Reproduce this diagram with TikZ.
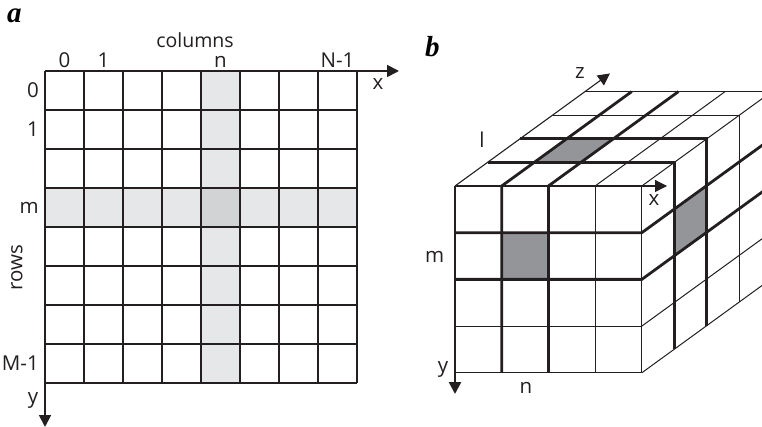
\documentclass[tikz,border=0pt]{standalone}
\usepackage{fontspec}
\setmainfont{Open Sans}
\newfontfamily\panelfont{Liberation Serif}
\usetikzlibrary{arrows.meta}
\definecolor{ink}{HTML}{231F20}
\definecolor{lightsh}{HTML}{E6E7E8}
\definecolor{midsh}{HTML}{D1D3D4}
\definecolor{darksh}{HTML}{939598}
\begin{document}
\begin{tikzpicture}[x=1pt,y=-1pt,
  thinline/.style={draw=ink,line width=1.1pt},
  thickline/.style={draw=ink,line width=2.6pt,line join=miter},
  bthin/.style={draw=ink,line width=1.0pt},
  bthick/.style={draw=ink,line width=2.8pt,line join=miter},
  axisarrow/.style={draw=ink,line width=1.8pt,-{Triangle[length=12pt,width=12pt]}},
  thinarrow/.style={draw=ink,line width=1.1pt,-{Triangle[length=12pt,width=12pt]}},
  lbl/.style={font=\fontsize{20.5}{21}\selectfont,text=ink,inner sep=0pt},
  panel/.style={font=\panelfont\bfseries\itshape\fontsize{29}{29}\selectfont,text=black,inner sep=0pt}]
\useasboundingbox (0,0) rectangle (762,427);
\clip (0,0) rectangle (762,427);
% ---------------- panel a ----------------
\fill[lightsh] (45,188) rectangle (357,227);
\fill[lightsh] (201,71) rectangle (240,383);
\fill[midsh] (201,188) rectangle (240,227);
\foreach \i in {1,2,3,6,7,8} \draw[thinline] ({45+39*\i},71) -- ({45+39*\i},383);
\foreach \j in {1,2,5,6,7,8} \draw[thinline] (45,{71+39*\j}) -- (357,{71+39*\j});
\draw[thickline] (201,71) -- (201,383);
\draw[thickline] (240,71) -- (240,383);
\draw[thickline] (45,188) -- (357,188);
\draw[thickline] (45,227) -- (357,227);
\coordinate (aO) at (45,71);
\coordinate (aX) at (399,71);
\coordinate (aY) at (45,427);
\draw[axisarrow] (aO) -- (aX);
\draw[axisarrow] (aO) -- (aY);
\node[panel,anchor=base west] (pa) at (7,23) {a};
\node[lbl,font=\fontsize{19.5}{20}\selectfont,anchor=base] (cols) at (195,48) {columns};
\node[lbl,anchor=base] (c0) at (64.5,68) {0};
\node[lbl,anchor=base] (c1) at (103.5,68) {1};
\node[lbl,anchor=base] (cn) at (220.5,68) {n};
\node[lbl,anchor=base] (cN) at (337.5,68) {N-1};
\node[lbl,anchor=east] (r0) at (39,90.5) {0};
\node[lbl,anchor=east] (r1) at (39,129.5) {1};
\node[lbl,anchor=east] (rm) at (39,207.5) {m};
\node[lbl,anchor=east] (rM) at (39,363.5) {M-1};
\node[lbl,rotate=90] (rows) at (17,268) {rows};
\node[lbl] (ax) at (378,84) {x};
\node[lbl,anchor=base] (ay) at (33,403) {y};
% ---------------- panel b ----------------
\def\bx{455}\def\by{186}\def\cs{46.7}\def\ddx{32.5}\def\ddy{23.6}
% shaded cells
\fill[darksh] ({\bx+\cs},{\by+\cs}) rectangle ({\bx+2*\cs},{\by+2*\cs});
\fill[darksh] ({\bx+\cs+\ddx},{\by-\ddy}) -- ({\bx+2*\cs+\ddx},{\by-\ddy})
   -- ({\bx+2*\cs+2*\ddx},{\by-2*\ddy}) -- ({\bx+\cs+2*\ddx},{\by-2*\ddy}) -- cycle;
\fill[darksh] ({\bx+4*\cs+\ddx},{\by+\cs-\ddy}) -- ({\bx+4*\cs+2*\ddx},{\by+\cs-2*\ddy})
   -- ({\bx+4*\cs+2*\ddx},{\by+2*\cs-2*\ddy}) -- ({\bx+4*\cs+\ddx},{\by+2*\cs-\ddy}) -- cycle;
% front face thin lines
\foreach \i in {3,4} \draw[bthin] ({\bx+\i*\cs},\by) -- ({\bx+\i*\cs},{\by+4*\cs});
\foreach \j in {3,4} \draw[bthin] (\bx,{\by+\j*\cs}) -- ({\bx+4*\cs},{\by+\j*\cs});
% top face thin lines
\foreach \i in {3,4} \draw[bthin] ({\bx+\i*\cs},\by) -- ({\bx+\i*\cs+4*\ddx},{\by-4*\ddy});
\foreach \d in {3,4} \draw[bthin] ({\bx+\d*\ddx},{\by-\d*\ddy}) -- ({\bx+4*\cs+\d*\ddx},{\by-\d*\ddy});
% right face thin lines
\foreach \j in {3,4} \draw[bthin] ({\bx+4*\cs},{\by+\j*\cs}) -- ({\bx+4*\cs+4*\ddx},{\by+\j*\cs-4*\ddy});
\foreach \d in {3,4} \draw[bthin] ({\bx+4*\cs+\d*\ddx},{\by-\d*\ddy}) -- ({\bx+4*\cs+\d*\ddx},{\by+4*\cs-\d*\ddy});
% thick: columns n (front verticals continuing on top)
\foreach \i in {1,2} \draw[bthick] ({\bx+\i*\cs},{\by+4*\cs}) -- ({\bx+\i*\cs},\by) -- ({\bx+\i*\cs+4*\ddx},{\by-4*\ddy});
% thick: row m (front horizontals continuing on right face)
\foreach \j in {1,2} \draw[bthick] (\bx,{\by+\j*\cs}) -- ({\bx+4*\cs},{\by+\j*\cs}) -- ({\bx+4*\cs+4*\ddx},{\by+\j*\cs-4*\ddy});
% thick: layer l (top lines continuing down the right face)
\foreach \d in {1,2} \draw[bthick] ({\bx+\d*\ddx},{\by-\d*\ddy}) -- ({\bx+4*\cs+\d*\ddx},{\by-\d*\ddy}) -- ({\bx+4*\cs+\d*\ddx},{\by+4*\cs-\d*\ddy});
% axes
\coordinate (bO) at (\bx,\by);
\coordinate (bX) at (667,\by);
\coordinate (bY) at (\bx,394);
\coordinate (bZ) at ({\bx+4.77*\ddx},{\by-4.77*\ddy});
\draw[thinarrow] (bO) -- (bX);
\draw[thinarrow] (bO) -- (bZ);
\draw[axisarrow,line width=2.4pt] (bO) -- (bY);
\node[panel,anchor=base west] (pb) at (425,57) {b};
\node[lbl] (bz) at (580,73) {z};
\node[lbl] (bl) at (482,140) {l};
\node[lbl] (bxl) at (654,200) {x};
\node[lbl] (bm) at (434.7,257) {m};
\node[lbl,anchor=base] (byl) at (443,372) {y};
\node[lbl] (bn) at (526,388) {n};
\end{tikzpicture}
\end{document}
